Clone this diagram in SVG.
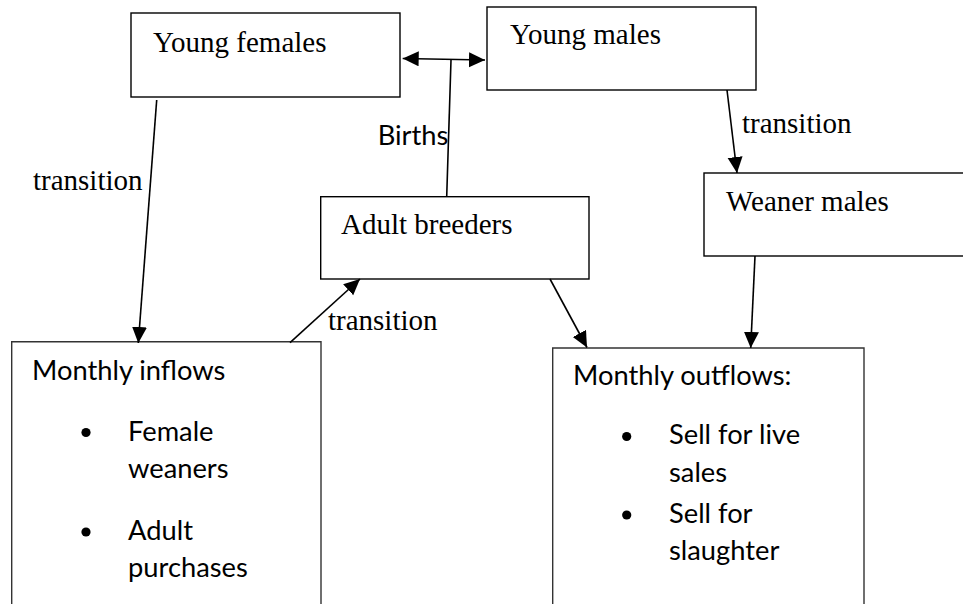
<svg xmlns="http://www.w3.org/2000/svg" width="963" height="604" viewBox="0 0 963 604">
<style>
.box{fill:#fff;stroke:#000;stroke-width:1.4}
.obox{fill:#fff;stroke:#333;stroke-width:1.4}
.serif{font-family:"Liberation Serif","Times New Roman",serif;font-size:29px;fill:#000}
.sans{font-family:Lato,"Liberation Sans",sans-serif;font-size:27.3px;fill:#000}
.conn{stroke:#000;stroke-width:1.6;fill:none}
</style>
<defs>
<marker id="ah" markerUnits="userSpaceOnUse" markerWidth="17" markerHeight="16" refX="16" refY="7.5" orient="auto-start-reverse" viewBox="0 0 17 16">
<path d="M0,0 L16,7.5 L0,15 z" fill="#000"/>
</marker>
</defs>
<rect width="963" height="604" fill="#fff"/>
<g id="young-females">
<rect class="box" x="131" y="13" width="269" height="84"/>
<text class="serif" x="153" y="52">Young females</text>
</g>
<g id="young-males">
<rect class="box" x="487" y="7" width="269" height="83"/>
<text class="serif" x="510" y="44">Young males</text>
</g>
<g id="adult-breeders">
<rect class="box" x="320.7" y="196.7" width="268.3" height="82.3"/>
<text class="serif" x="341" y="234">Adult breeders</text>
</g>
<g id="weaner-males">
<rect class="box" x="704" y="173" width="270" height="83"/>
<text class="serif" x="726" y="211">Weaner males</text>
</g>
<g id="monthly-inflows">
<path class="obox" d="M11.7,610 V341.7 H321 V610"/>
<text class="sans" x="32" y="380">Monthly inflows</text>
<circle cx="86" cy="432.5" r="4.6" fill="#000"/>
<text class="sans" x="128" y="441">Female</text>
<text class="sans" x="128" y="477.5">weaners</text>
<circle cx="86" cy="532" r="4.6" fill="#000"/>
<text class="sans" x="128" y="540">Adult</text>
<text class="sans" x="128" y="576.5">purchases</text>
</g>
<g id="monthly-outflows">
<path class="obox" d="M552.7,610 V348 H864 V610"/>
<text class="sans" x="573" y="385">Monthly outflows:</text>
<circle cx="626.7" cy="436.5" r="4.6" fill="#000"/>
<text class="sans" x="669" y="444">Sell for live</text>
<text class="sans" x="669" y="481.5">sales</text>
<circle cx="626.7" cy="515" r="4.6" fill="#000"/>
<text class="sans" x="669" y="522.5">Sell for</text>
<text class="sans" x="669" y="560">slaughter</text>
</g>
<g id="connectors">
<line class="conn" x1="156.7" y1="100" x2="138.3" y2="343" marker-end="url(#ah)"/>
<line class="conn" x1="290" y1="342.7" x2="360" y2="279" marker-end="url(#ah)"/>
<line class="conn" x1="451" y1="60" x2="446.7" y2="197"/>
<line class="conn" x1="402.7" y1="58.5" x2="485" y2="60" marker-start="url(#ah)" marker-end="url(#ah)"/>
<line class="conn" x1="727" y1="90" x2="737" y2="173" marker-end="url(#ah)"/>
<line class="conn" x1="550" y1="279" x2="587" y2="347.5" marker-end="url(#ah)"/>
<line class="conn" x1="755" y1="256" x2="750.7" y2="348" marker-end="url(#ah)"/>
</g>
<g id="labels">
<text class="serif" x="33" y="190">transition</text>
<text class="sans" x="377.7" y="145">Births</text>
<text class="serif" x="328" y="330">transition</text>
<text class="serif" x="742" y="133">transition</text>
</g>
</svg>
